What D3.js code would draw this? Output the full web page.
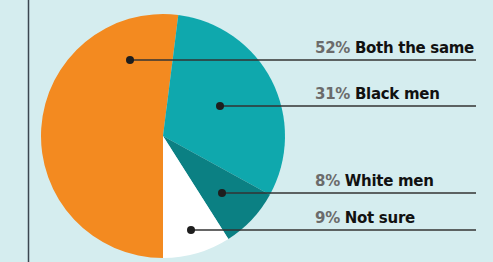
<!DOCTYPE html>
<html>
<head>
<meta charset="utf-8">
<style>
body { margin: 0; background: #d5edef; }
svg { display: block; }
.pct { fill: #6b6b6b; }
.lbl { fill: #111; }
text { font: 700 15px "DejaVu Sans", sans-serif; }
</style>
<script src="https://d3js.org/d3.v7.min.js"></script>
</head>
<body>
<script>
// data
var labels = ["Both the same", "Black men", "White men", "Not sure"];
var values = [52, 31, 8, 9];
var colors = ["#f38a20", "#0fa8ad", "#0b8083", "#ffffff"];

// layout for the callouts (row y, dot x offset from pie centre)
var rowY = [60, 106, 193, 230];
var dotDx = [-33, 57, 59, 28];

var W = 493, H = 262;
var cx = 163, cy = 136, r = 122;

var svg = d3.select("body").append("svg")
    .attr("width", W)
    .attr("height", H);

svg.append("rect")
    .attr("width", W).attr("height", H)
    .attr("fill", "#d5edef");

// left rule
svg.append("line")
    .attr("x1", 28.5).attr("x2", 28.5)
    .attr("y1", 0).attr("y2", H)
    .attr("stroke", "#3b4650")
    .attr("stroke-width", 1.5);

var pie = d3.pie()
    .sort(null)
    .startAngle(Math.PI)
    .endAngle(3 * Math.PI)
    .value(d => d);

var arc = d3.arc().innerRadius(0).outerRadius(r);

var g = svg.append("g").attr("transform", "translate(" + cx + "," + cy + ")");

g.selectAll("path")
    .data(pie(values))
    .enter().append("path")
    .attr("d", arc)
    .attr("fill", (d, i) => colors[i]);

// callouts
var lineEnd = 476;
var textX = 315;

var rows = svg.selectAll("g.row")
    .data(values)
    .enter().append("g")
    .attr("class", "row");

rows.append("line")
    .attr("x1", (d, i) => cx + dotDx[i])
    .attr("x2", lineEnd)
    .attr("y1", (d, i) => rowY[i])
    .attr("y2", (d, i) => rowY[i])
    .attr("stroke", "#333")
    .attr("stroke-width", 1.4);

rows.append("circle")
    .attr("cx", (d, i) => cx + dotDx[i])
    .attr("cy", (d, i) => rowY[i])
    .attr("r", 4)
    .attr("fill", "#1e1e1e");

var t = rows.append("text")
    .attr("x", textX)
    .attr("y", (d, i) => rowY[i] - 7.5);

t.append("tspan").attr("class", "pct").text(d => d + "%");
t.append("tspan").attr("class", "lbl").text((d, i) => " " + labels[i]);

// fit spacing so the first label ends near x=474 like the original
var w0 = t.nodes()[0].getComputedTextLength();
var n0 = (values[0] + "% " + labels[0]).length;
var ls = (474 - textX - w0) / n0;
t.style("letter-spacing", ls + "px");
</script>
</body>
</html>
